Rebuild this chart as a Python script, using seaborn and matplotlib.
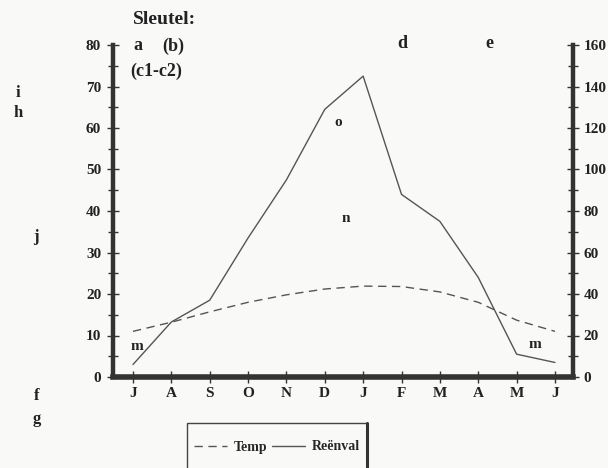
import numpy as np
import pandas as pd
import matplotlib
matplotlib.use("Agg")
import matplotlib.pyplot as plt
import seaborn as sns
from matplotlib.ticker import MultipleLocator
from matplotlib.lines import Line2D
from matplotlib.patches import Rectangle

months = ['J', 'A', 'S', 'O', 'N', 'D', 'J', 'F', 'M', 'A', 'M', 'J']
temp = [11, 13.2, 15.7, 18, 19.8, 21.2, 21.9, 21.8, 20.5, 18, 13.7, 11]
rain = [6, 26.5, 37, 67, 95, 129, 145, 88, 75, 48, 11, 7]
left_ticks = [0, 10, 20, 30, 40, 50, 60, 70, 80]
right_ticks = [0, 20, 40, 60, 80, 100, 120, 140, 160]

sns.set_theme(style="white")
plt.rcParams['font.family'] = ['Liberation Serif', 'DejaVu Serif']
plt.rcParams['font.weight'] = 'bold'

W, H = 608, 468
bg = '#f9f9f7'
fig = plt.figure(figsize=(W / 100, H / 100), dpi=100, facecolor=bg)
ax = fig.add_axes([113 / W, 1 - 377 / H, (573 - 113) / W, (377 - 45) / H])
ax.set_facecolor(bg)
ax2 = ax.twinx()

df = pd.DataFrame({'pos': np.arange(len(months)), 'temp': temp, 'rain': rain})
line_col = '#555555'
sns.lineplot(data=df, x='pos', y='temp', ax=ax, color=line_col, lw=1.0)
ax.lines[0].set_dashes((6, 4))
sns.lineplot(data=df, x='pos', y='rain', ax=ax2, color=line_col, lw=1.0)

ax.set_xlim(-0.52, 11.47)
ax.set_ylim(0, 80)
ax2.set_ylim(0, 160)
ax.set_xlabel('')
ax.set_ylabel('')
ax2.set_ylabel('')

spc = '#333333'
for a in (ax, ax2):
    for s in a.spines.values():
        s.set_visible(False)
ax.spines['left'].set_visible(True)
ax.spines['bottom'].set_visible(True)
ax2.spines['right'].set_visible(True)
ax.spines['left'].set_linewidth(3.2)
ax.spines['bottom'].set_linewidth(4.0)
ax2.spines['right'].set_linewidth(3.2)
for s in (ax.spines['left'], ax.spines['bottom'], ax2.spines['right']):
    s.set_color(spc)
    s.set_capstyle('projecting')

ax.set_xticks(np.arange(len(months)))
ax.set_xticklabels(months)
ax.set_yticks(left_ticks)
ax.set_yticklabels([str(t) for t in left_ticks])
ax.yaxis.set_minor_locator(MultipleLocator(5))
ax2.set_yticks(right_ticks)
ax2.set_yticklabels([str(t) for t in right_ticks])
ax2.yaxis.set_minor_locator(MultipleLocator(10))

tkw = dict(direction='inout', color=spc, labelcolor='#222222', labelsize=11)
ax.tick_params(axis='y', which='major', length=9, width=1.0, pad=4, left=True, **tkw)
ax.tick_params(axis='y', which='minor', length=7, width=1.0, left=True, direction='inout', color=spc)
ax2.tick_params(axis='y', which='major', length=9, width=1.0, pad=3, right=True, **tkw)
ax2.tick_params(axis='y', which='minor', length=7, width=1.0, right=True, direction='inout', color=spc)
ax.tick_params(axis='x', which='major', length=8, width=1.0, pad=3, bottom=True, **tkw)
for lab in ax.get_xticklabels() + ax.get_yticklabels() + ax2.get_yticklabels():
    lab.set_fontweight('bold')
ax.grid(False)
ax2.grid(False)

def ftext(x, y, s, size=11, **kw):
    fig.text(x / W, 1 - y / H, s, fontsize=size, fontweight='bold', color='#222222',
             va='center', **kw)

ftext(133, 19, 'Sleutel:', 14, ha='left')
ftext(133, 46, 'a', 13, ha='left')
ftext(162, 46, '(b)', 13, ha='left')
ftext(130, 71, '(c1-c2)', 13, ha='left')
ftext(402, 43, 'd', 13, ha='center')
ftext(489, 43, 'e', 13, ha='center')
ftext(18, 93, 'i', 12, ha='center')
ftext(18, 113, 'h', 12, ha='center')
ftext(36, 237, 'j', 12, ha='center')
ftext(37, 396, 'f', 12, ha='center')
ftext(37, 419, 'g', 12, ha='center')
ftext(338, 122, 'o', 11, ha='center')
ftext(346, 218, 'n', 11, ha='center')
ftext(137, 346, 'm', 11, ha='center')
ftext(535, 344, 'm', 11, ha='center')

# legend box
fig.patches.append(Rectangle((187 / W, 1 - 475 / H), (367 - 187) / W, (475 - 423) / H,
                             transform=fig.transFigure, facecolor=bg, edgecolor='#444444',
                             lw=1.0, zorder=0))
fig.lines.append(Line2D([367 / W, 367 / W], [1 - 423 / H, 0], transform=fig.transFigure,
                        color='#333333', lw=2.2))
handles = [Line2D([], [], color=line_col, lw=1.0, dashes=(6, 4)),
           Line2D([], [], color=line_col, lw=1.0)]
fig.legend(handles, ['Temp', 'Reënval'], loc='center', bbox_to_anchor=(277 / W, 1 - 447 / H),
           ncol=2, frameon=False, prop={'weight': 'bold', 'size': 10},
           handlelength=2.4, handletextpad=0.5, columnspacing=0.3)

fig.savefig('out.png', dpi=100, facecolor=bg)
